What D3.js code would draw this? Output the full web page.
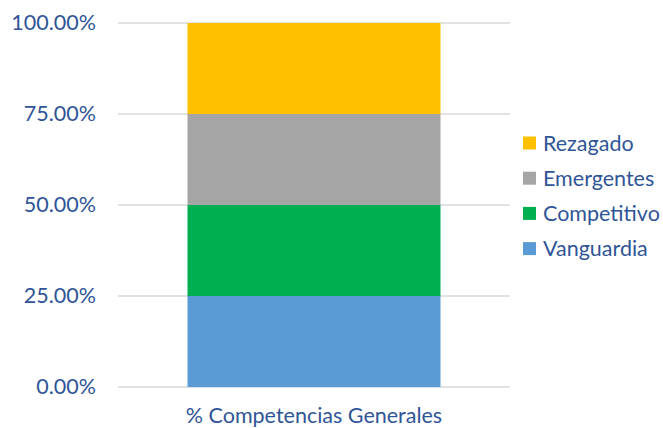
<!DOCTYPE html>
<html>
<head>
<meta charset="utf-8">
<script src="https://cdn.jsdelivr.net/npm/d3@7"></script>
<style>
  html, body { margin: 0; padding: 0; background: #fff; }
  svg { display: block; font-family: Lato, "Noto Sans", sans-serif; }
</style>
</head>
<body>
<svg id="chart" width="663" height="428"></svg>
<script>
// Stacked 100% bar: share of each level in general competencies
const categories = ["% Competencias Generales"];
const seriesNames = ["Vanguardia", "Competitivo", "Emergentes", "Rezagado"];
const vanguardia = [0.25];
const competitivo = [0.25];
const emergentes = [0.25];
const rezagado = [0.25];
const seriesColors = ["#5B9BD5", "#00B050", "#A5A5A5", "#FFC000"];
const yTicks = [0, 0.25, 0.5, 0.75, 1];

const seriesValues = [vanguardia, competitivo, emergentes, rezagado];
const rows = categories.map((c, i) => {
  const r = { category: c };
  seriesNames.forEach((s, j) => { r[s] = seriesValues[j][i]; });
  return r;
});

const svg = d3.select("#chart");
const textColor = "#2F5597";
const fontSize = 21.5;
const plot = { left: 118, right: 510, top: 23, bottom: 387 };

const x = d3.scaleBand()
  .domain(categories)
  .range([plot.left, plot.right])
  .paddingInner(0.2155)
  .paddingOuter(0.2155);

const y = d3.scaleLinear().domain([0, 1]).range([plot.bottom, plot.top]);

// Horizontal gridlines
svg.append("g")
  .selectAll("line")
  .data(yTicks)
  .join("line")
  .attr("x1", plot.left)
  .attr("x2", plot.right)
  .attr("y1", d => y(d))
  .attr("y2", d => y(d))
  .attr("stroke", "#D9D9D9")
  .attr("stroke-width", 1.5);

// Stacked segments
const stack = d3.stack().keys(seriesNames);
const layers = stack(rows);
svg.append("g")
  .selectAll("g")
  .data(layers)
  .join("g")
  .attr("fill", (d, i) => seriesColors[i])
  .selectAll("rect")
  .data(d => d)
  .join("rect")
  .attr("x", d => x(d.data.category))
  .attr("width", x.bandwidth())
  .attr("y", d => y(d[1]))
  .attr("height", d => y(d[0]) - y(d[1]));

// Y axis labels
const yAxis = d3.axisLeft(y)
  .tickValues(yTicks)
  .tickFormat(d3.format(".2%"))
  .tickSize(0)
  .tickPadding(22);
const gy = svg.append("g")
  .attr("transform", `translate(${plot.left},0)`)
  .call(yAxis);
gy.select(".domain").remove();
gy.selectAll("text")
  .attr("fill", textColor)
  .attr("font-size", fontSize)
  .attr("font-family", "Lato, 'Noto Sans', sans-serif");

// X axis label
const xAxis = d3.axisBottom(x).tickSize(0).tickPadding(21);
const gx = svg.append("g")
  .attr("transform", `translate(0,${plot.bottom})`)
  .call(xAxis);
gx.select(".domain").remove();
gx.selectAll("text")
  .attr("fill", textColor)
  .attr("font-size", fontSize)
  .attr("font-family", "Lato, 'Noto Sans', sans-serif");

// Legend (top to bottom in reverse stacking order)
const legendItems = seriesNames.map((n, i) => ({ name: n, color: seriesColors[i] })).reverse();
const legend = svg.append("g").attr("transform", "translate(523,143)");
const item = legend.selectAll("g")
  .data(legendItems)
  .join("g")
  .attr("transform", (d, i) => `translate(0,${i * 35.2})`);
item.append("rect")
  .attr("x", 0)
  .attr("y", -6.5)
  .attr("width", 13)
  .attr("height", 13)
  .attr("fill", d => d.color);
item.append("text")
  .attr("x", 20)
  .attr("y", 0)
  .attr("dy", "0.35em")
  .attr("fill", textColor)
  .attr("font-size", fontSize)
  .text(d => d.name);
</script>
</body>
</html>
